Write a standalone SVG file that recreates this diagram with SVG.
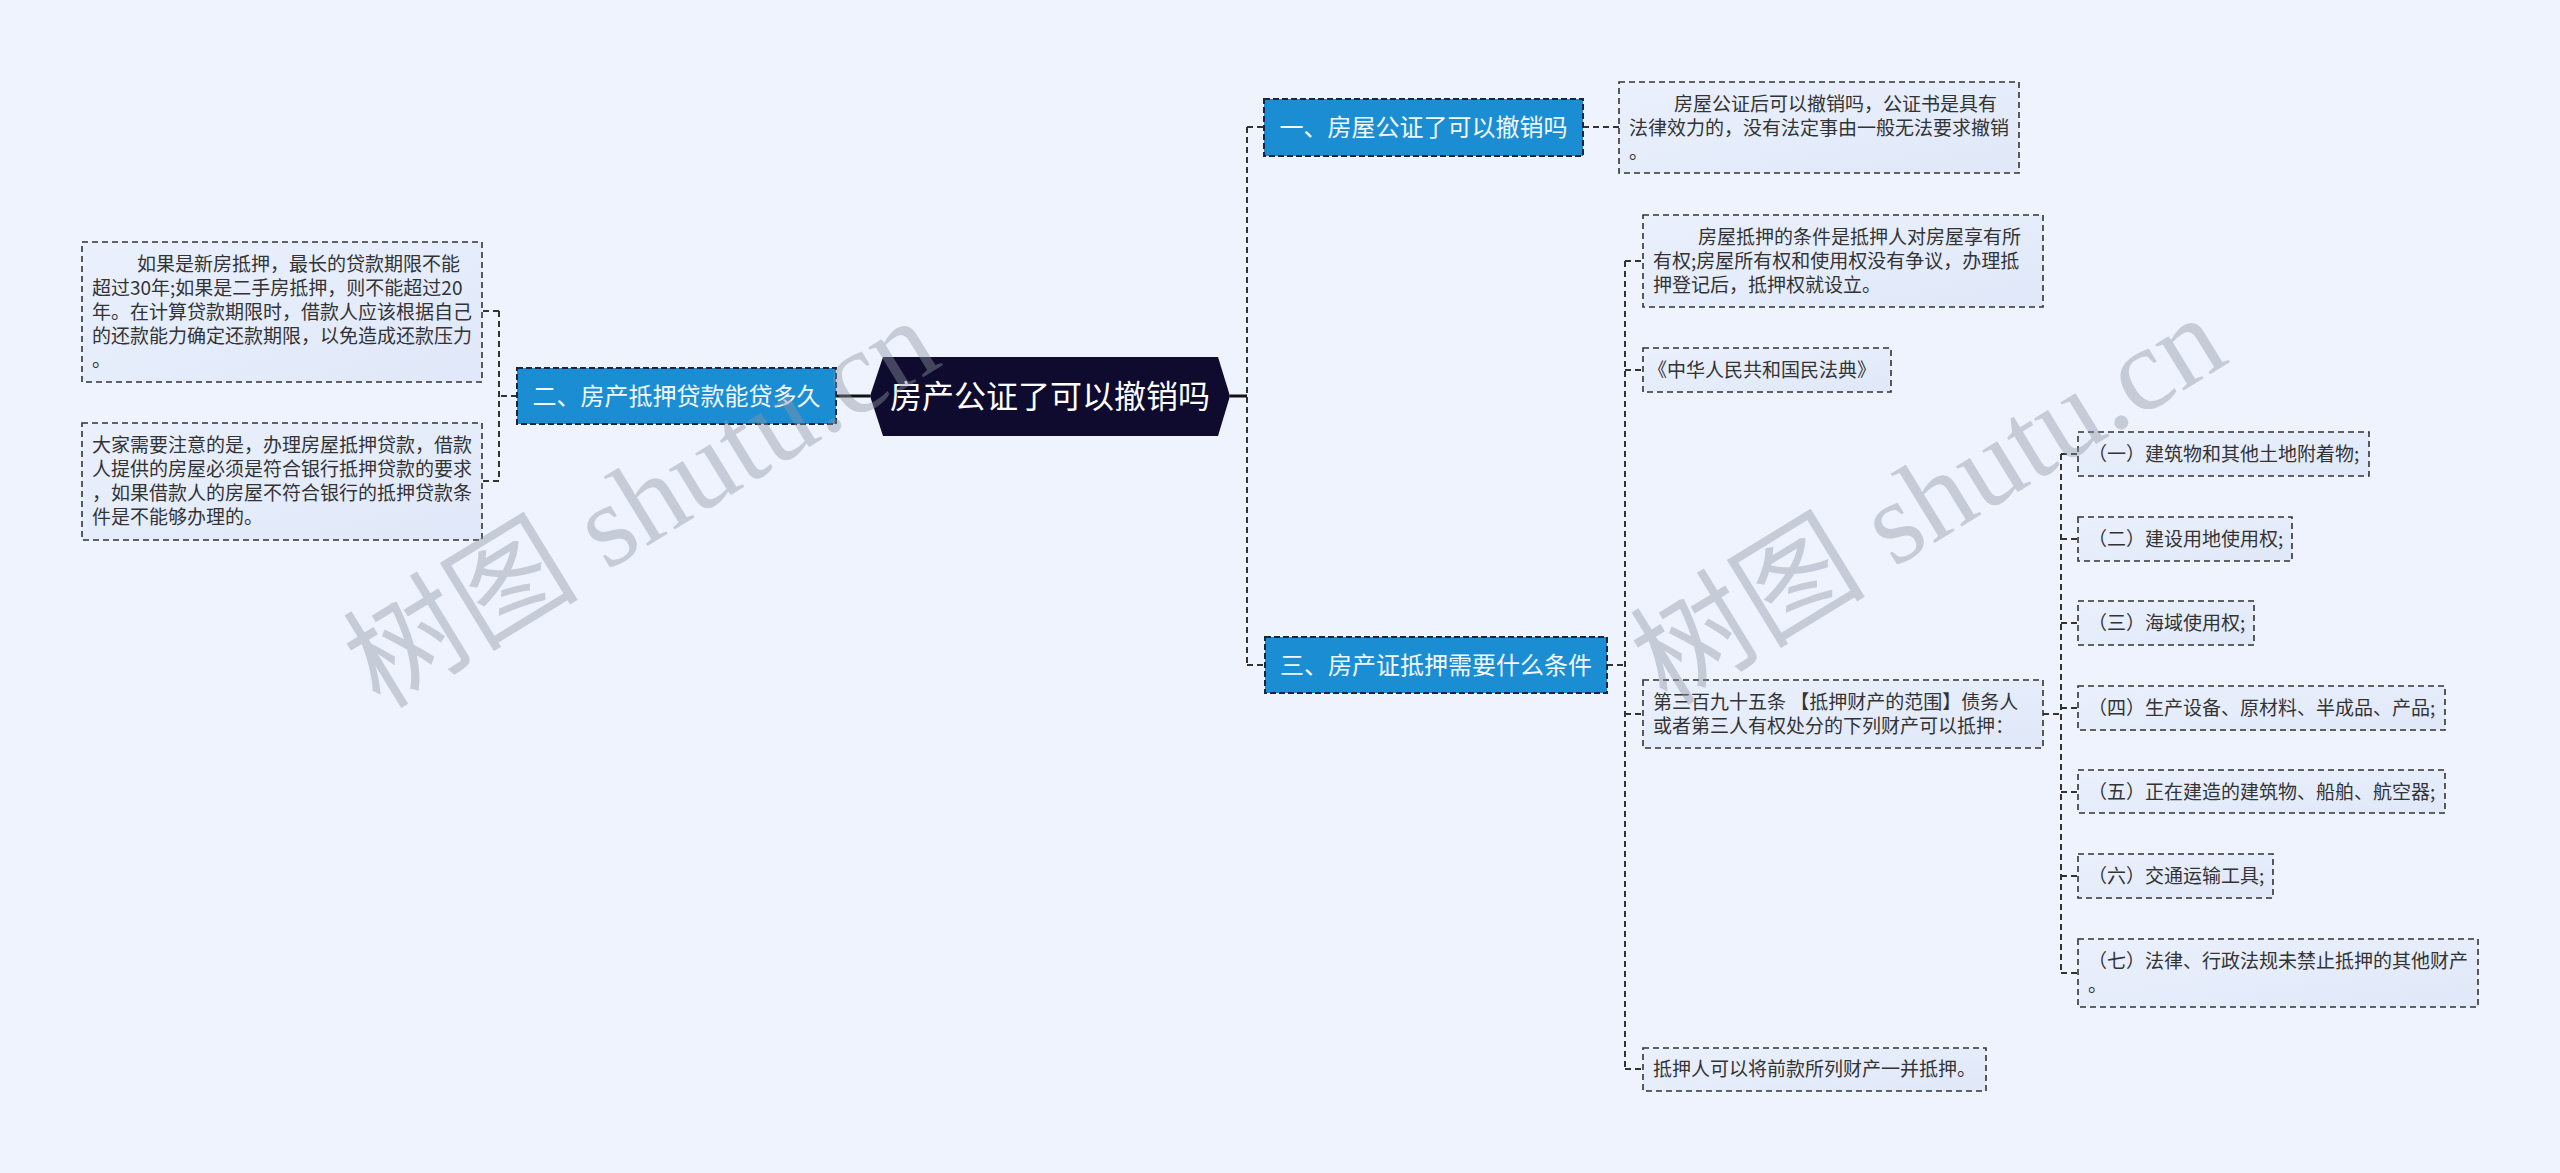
<svg xmlns="http://www.w3.org/2000/svg" width="2560" height="1173" viewBox="0 0 2560 1173">
<defs>
<linearGradient id="leafg" x1="0" y1="0" x2="1" y2="1">
<stop offset="0" stop-color="#EAF0FC"/>
<stop offset="1" stop-color="#E0E8F9"/>
</linearGradient>
</defs>
<style>
.bg{fill:#EEF3FE}
.conn{fill:none;stroke:#333;stroke-width:2;stroke-dasharray:6 4}
.solid{fill:none;stroke:#111;stroke-width:3}
.leaf{fill:url(#leafg);stroke:#333;stroke-width:1.6;stroke-dasharray:6 4}
.branch{fill:#1B8ED3;stroke:#1a2540;stroke-width:2;stroke-dasharray:6 3}
.center{fill:#0E0B2E}
.lt{font-family:"Noto Sans CJK SC","Liberation Sans",sans-serif;font-size:19px;fill:#333}
.bt{font-family:"Noto Sans CJK SC","Liberation Sans",sans-serif;font-size:24px;fill:#F2F8FF;text-anchor:middle}
.ct{font-family:"Noto Sans CJK SC","Liberation Sans",sans-serif;font-size:32px;fill:#FFFFFF;text-anchor:middle}
.wm{font-family:"Liberation Serif","Noto Sans CJK SC",serif;font-size:118px;fill:#8E95A3;opacity:0.42}
</style>
<rect class="bg" x="0" y="0" width="2560" height="1173"/>

<g id="connectors">
<line class="solid" x1="836" y1="396" x2="870" y2="396"/>
<line class="solid" x1="1230" y1="396" x2="1247" y2="396"/>
<path class="conn" d="M1247 127 L1247 665"/>
<path class="conn" d="M1247 127 L1264 127"/>
<path class="conn" d="M1247 665 L1265 665"/>
<path class="conn" d="M1583 127 L1619 127"/>
<path class="conn" d="M517 396 L499 396"/>
<path class="conn" d="M499 311 L499 481"/>
<path class="conn" d="M499 311 L482 311"/>
<path class="conn" d="M499 481 L482 481"/>
<path class="conn" d="M1607 665 L1625 665"/>
<path class="conn" d="M1625 261 L1625 1069"/>
<path class="conn" d="M1625 261 L1643 261"/>
<path class="conn" d="M1625 370 L1643 370"/>
<path class="conn" d="M1625 714 L1643 714"/>
<path class="conn" d="M1625 1069 L1643 1069"/>
<path class="conn" d="M2043 714 L2061 714"/>
<path class="conn" d="M2061 454 L2061 973"/>
<path class="conn" d="M2061 454 L2078 454"/>
<path class="conn" d="M2061 539 L2078 539"/>
<path class="conn" d="M2061 623 L2078 623"/>
<path class="conn" d="M2061 708 L2078 708"/>
<path class="conn" d="M2061 792 L2078 792"/>
<path class="conn" d="M2061 876 L2078 876"/>
<path class="conn" d="M2061 973 L2078 973"/>
</g>

<g id="center">
<polygon class="center" points="870,396 883,357 1218,357 1230,396 1218,436 883,436"/>
<text class="ct" x="1050" y="408">房产公证了可以撤销吗</text>
</g>

<g id="branch1">
<rect class="branch" x="1264" y="99" width="319" height="57"/>
<text class="bt" x="1423.5" y="136">一、房屋公证了可以撤销吗</text>
</g>
<g id="branch2">
<rect class="branch" x="517" y="368" width="319" height="56"/>
<text class="bt" x="676.5" y="404.5">二、房产抵押贷款能贷多久</text>
</g>
<g id="branch3">
<rect class="branch" x="1265" y="637" width="342" height="56"/>
<text class="bt" x="1436" y="673.5">三、房产证抵押需要什么条件</text>
</g>

<g id="leaf1">
<rect class="leaf" x="1619" y="82" width="400" height="91"/>
<text class="lt"><tspan x="1674" y="111">房屋公证后可以撤销吗，公证书是具有</tspan><tspan x="1629" y="135">法律效力的，没有法定事由一般无法要求撤销</tspan><tspan x="1629" y="159">。</tspan></text>
</g>

<g id="leafA">
<rect class="leaf" x="82" y="242" width="400" height="140"/>
<text class="lt"><tspan x="137" y="271">如果是新房抵押，最长的贷款期限不能</tspan><tspan x="92" y="295">超过30年;如果是二手房抵押，则不能超过20</tspan><tspan x="92" y="319">年。在计算贷款期限时，借款人应该根据自己</tspan><tspan x="92" y="343">的还款能力确定还款期限，以免造成还款压力</tspan><tspan x="92" y="367">。</tspan></text>
</g>
<g id="leafB">
<rect class="leaf" x="82" y="423" width="400" height="117"/>
<text class="lt"><tspan x="92" y="452">大家需要注意的是，办理房屋抵押贷款，借款</tspan><tspan x="92" y="476">人提供的房屋必须是符合银行抵押贷款的要求</tspan><tspan x="92" y="500">，如果借款人的房屋不符合银行的抵押贷款条</tspan><tspan x="92" y="524">件是不能够办理的。</tspan></text>
</g>

<g id="leaf3a">
<rect class="leaf" x="1643" y="215" width="400" height="92"/>
<text class="lt"><tspan x="1698" y="244">房屋抵押的条件是抵押人对房屋享有所</tspan><tspan x="1653" y="268">有权;房屋所有权和使用权没有争议，办理抵</tspan><tspan x="1653" y="292">押登记后，抵押权就设立。</tspan></text>
</g>
<g id="leaf3b">
<rect class="leaf" x="1643" y="348" width="248" height="44"/>
<text class="lt" x="1648" y="377">《中华人民共和国民法典》</text>
</g>
<g id="leaf3c">
<rect class="leaf" x="1643" y="680" width="400" height="68"/>
<text class="lt"><tspan x="1653" y="709">第三百九十五条 【抵押财产的范围】债务人</tspan><tspan x="1653" y="733">或者第三人有权处分的下列财产可以抵押：</tspan></text>
</g>
<g id="leaf3d">
<rect class="leaf" x="1643" y="1048" width="343" height="43"/>
<text class="lt" x="1653" y="1076">抵押人可以将前款所列财产一并抵押。</text>
</g>

<g id="sub1"><rect class="leaf" x="2078" y="432" width="291" height="44"/><text class="lt" x="2088" y="461">（一）建筑物和其他土地附着物;</text></g>
<g id="sub2"><rect class="leaf" x="2078" y="517" width="214" height="44"/><text class="lt" x="2088" y="546">（二）建设用地使用权;</text></g>
<g id="sub3"><rect class="leaf" x="2078" y="601" width="176" height="44"/><text class="lt" x="2088" y="630">（三）海域使用权;</text></g>
<g id="sub4"><rect class="leaf" x="2078" y="686" width="367" height="44"/><text class="lt" x="2088" y="715">（四）生产设备、原材料、半成品、产品;</text></g>
<g id="sub5"><rect class="leaf" x="2078" y="770" width="367" height="43"/><text class="lt" x="2088" y="799">（五）正在建造的建筑物、船舶、航空器;</text></g>
<g id="sub6"><rect class="leaf" x="2078" y="854" width="195" height="44"/><text class="lt" x="2088" y="883">（六）交通运输工具;</text></g>
<g id="sub7"><rect class="leaf" x="2078" y="939" width="400" height="68"/><text class="lt"><tspan x="2088" y="968">（七）法律、行政法规未禁止抵押的其他财产</tspan><tspan x="2088" y="992">。</tspan></text></g>

<g id="watermarks">
<text class="wm" transform="translate(380,710) rotate(-31.5)">树图 shutu.cn</text>
<text class="wm" transform="translate(1667,707) rotate(-31.5)">树图 shutu.cn</text>
</g>
</svg>
